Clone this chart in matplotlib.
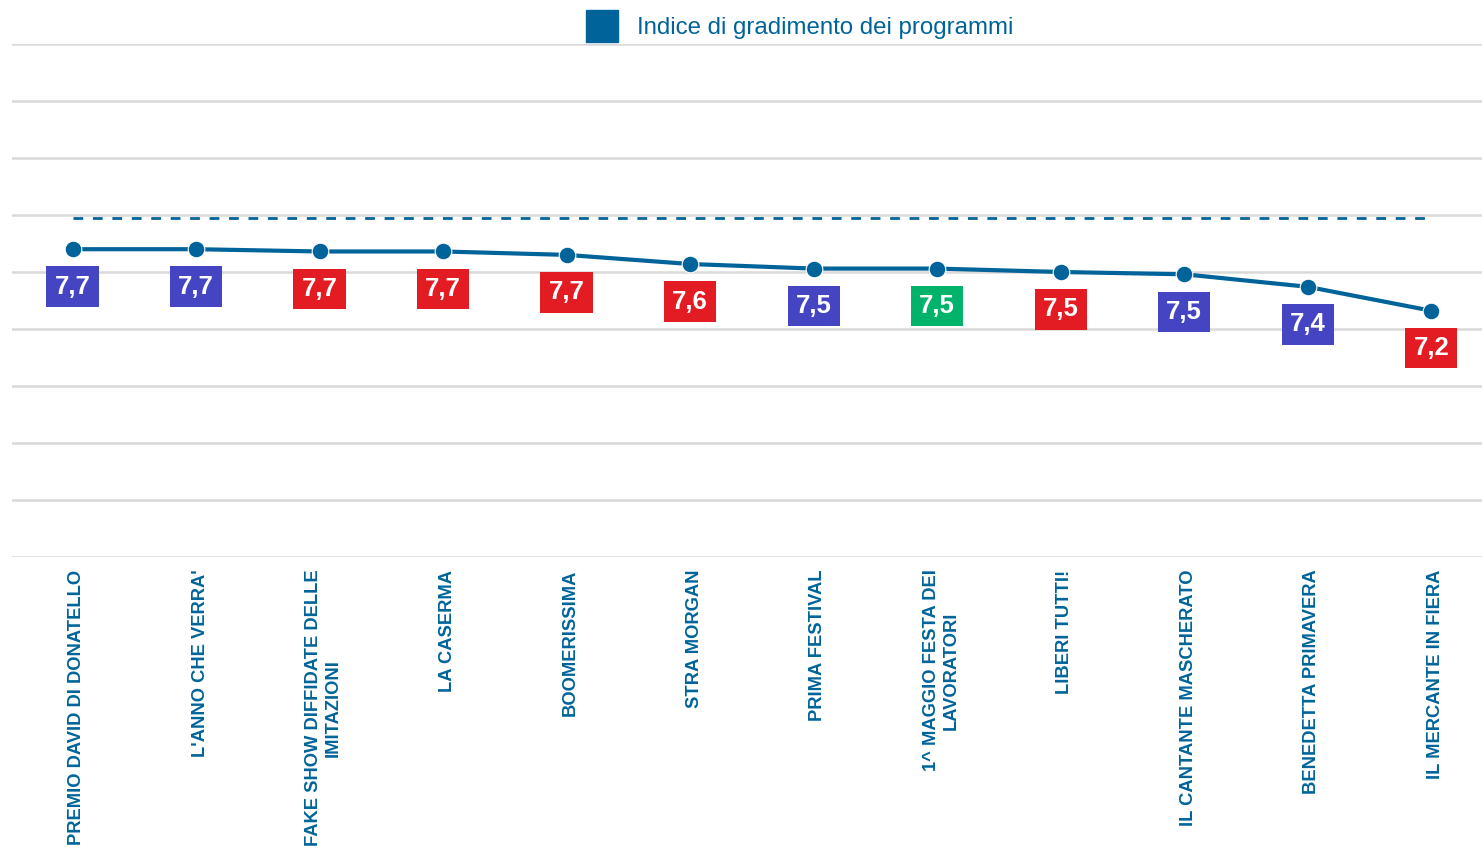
import matplotlib.pyplot as plt
from matplotlib.lines import Line2D
from matplotlib.transforms import ScaledTranslation

programmi = ["PREMIO DAVID DI DONATELLO", "L'ANNO CHE VERRA'", "FAKE SHOW DIFFIDATE DELLE\nIMITAZIONI",
             "LA CASERMA", "BOOMERISSIMA", "STRA MORGAN", "PRIMA FESTIVAL", "1^ MAGGIO FESTA DEI\nLAVORATORI",
             "LIBERI TUTTI!", "IL CANTANTE MASCHERATO", "BENEDETTA PRIMAVERA", "IL MERCANTE IN FIERA"]
indice = [7.70, 7.70, 7.68, 7.68, 7.65, 7.57, 7.53, 7.53, 7.50, 7.48, 7.37, 7.16]
etichette = ["7,7", "7,7", "7,7", "7,7", "7,7", "7,6", "7,5", "7,5", "7,5", "7,5", "7,4", "7,2"]
reti = ["blu", "blu", "rosso", "rosso", "rosso", "rosso", "blu", "verde", "rosso", "blu", "blu", "rosso"]
media = 7.97

colori_rete = {"blu": "#4545c4", "rosso": "#e31b23", "verde": "#00b26a"}
blu = "#00649a"

plt.rcParams['font.family'] = ['Liberation Sans', 'DejaVu Sans']

fig = plt.figure(figsize=(14.82, 8.5), dpi=100)
ax = fig.add_axes([12 / 1482, 1 - 557 / 850, 1 - 12 / 1482, (557 - 44) / 850])

x = list(range(len(programmi)))
ax.plot(x, indice, color=blu, lw=3, marker='o', ms=12, mec='white', mew=0.8, zorder=3)
ax.plot([x[0], x[-1]], [media, media], color=blu, lw=2, ls=(0, (3.5, 3.5)), zorder=2)

for xi, v, lab, r in zip(x, indice, etichette, reti):
    ax.annotate(lab, (xi, v), xytext=(0, -27), textcoords='offset points',
                ha='center', va='center', color='white', fontsize=18.5, fontweight='bold',
                bbox=dict(boxstyle='square,pad=0.32', fc=colori_rete[r], ec='none'), zorder=4)

ax.set_xlim(-0.49, 11.41)
ax.set_ylim(5, 9.5)
ax.set_yticks([5 + 0.5 * i for i in range(10)])
ax.yaxis.grid(True, color='#d9d9d9', lw=1.8)
ax.set_axisbelow(True)
ax.tick_params(axis='y', left=False, labelleft=False)
ax.tick_params(axis='x', length=0, pad=9)
ax.set_xticks(x)
ax.set_xticklabels(programmi, rotation=90, fontsize=13.2, fontweight='bold', color=blu,
                   multialignment='center')
# shift the rotated labels a little to the right, as in the original
for t in ax.get_xticklabels():
    t.set_transform(t.get_transform() + ScaledTranslation(4 / 100, 0, fig.dpi_scale_trans))
for s in ax.spines.values():
    s.set_visible(False)

handle = Line2D([], [], marker='s', ls='', color=blu, markersize=23)
fig.legend(handles=[handle], labels=["Indice di gradimento dei programmi"], loc='upper center',
           bbox_to_anchor=(0.537, 1.005), frameon=False, fontsize=17.3, labelcolor=blu,
           handletextpad=0.45)

fig.savefig('out.png', dpi=100)
